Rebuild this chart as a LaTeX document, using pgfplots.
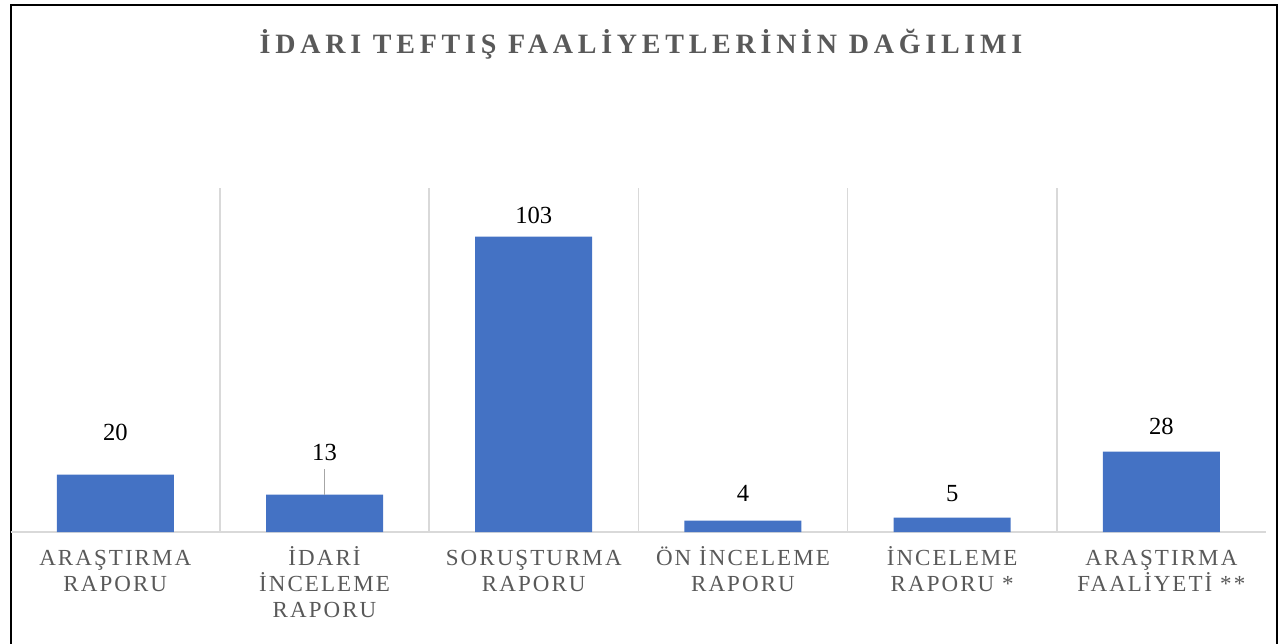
\documentclass[border=0pt]{standalone}
\usepackage{fontspec}
\setmainfont{Liberation Serif}
\newfontfamily\titlefont[LetterSpace=17]{Liberation Serif}
\newfontfamily\labelfont[LetterSpace=9]{Liberation Serif}
\usepackage{pgfplots}
\pgfplotsset{compat=1.18}
\definecolor{barc}{HTML}{4472C4}
\definecolor{gridc}{HTML}{D9D9D9}
\definecolor{textc}{HTML}{595959}
\definecolor{leadc}{HTML}{A6A6A6}
\newcommand\fl{\rule{0pt}{12pt}}
\begin{document}
\begin{tikzpicture}
\useasboundingbox (0,0) rectangle (640pt,321.5pt);
\draw[line width=1.2pt] (5.5pt,-10pt) -- (5.5pt,319pt) -- (638.5pt,319pt) -- (638.5pt,-10pt);
\node[anchor=base, text=textc, font=\titlefont\bfseries\fontsize{14}{16}\selectfont] at (320.5pt,294.5pt) {İDARI TEFTIŞ FAALİYETLERİNİN DAĞILIMI};
\begin{axis}[
  at={(5.35pt,55.5pt)}, anchor=south west,
  scale only axis, width=627.65pt, height=172pt,
  xmin=-0.5, xmax=5.5, ymin=0, ymax=120,
  axis x line*=bottom, axis y line=none,
  x axis line style={draw=gridc, line width=0.75pt},
  xtick={0,...,5},
  xticklabels={{\fl ARAŞTIRMA\\RAPORU},{\fl İDARİ\\İNCELEME\\RAPORU},{\fl SORUŞTURMA\\RAPORU},{\fl ÖN İNCELEME\\RAPORU},{\fl İNCELEME\\RAPORU *},{\fl ARAŞTIRMA\\FAALİYETİ **}},
  major tick length=0pt,
  minor xtick={0.5,1.5,2.5,3.5,4.5}, minor tick length=0pt,
  xminorgrids=true, minor grid style={draw=gridc, line width=0.75pt},
  xticklabel style={align=center, text=textc, font=\labelfont\fontsize{11.5}{13}\selectfont, anchor=north, yshift=-1pt},
  clip=false,
]
\addplot[ybar, fill=barc, draw=none, bar width=58.5pt] coordinates {(0,20) (1,13) (2,103) (3,4) (4,5) (5,28)};
\addplot[leadc, line width=0.6pt] coordinates {(1,13) (1,22)};
\addplot[draw=none, mark=none, nodes near coords, point meta=explicit symbolic,
  nodes near coords style={anchor=center, text=black, font=\fontsize{12.3}{14}\selectfont}]
  table[meta=v] {
x y v
0 34.6 20
1 27.6 13
2 110.3 103
3 13.5 4
4 13.5 5
5 36.7 28
};
\end{axis}
\end{tikzpicture}
\end{document}
